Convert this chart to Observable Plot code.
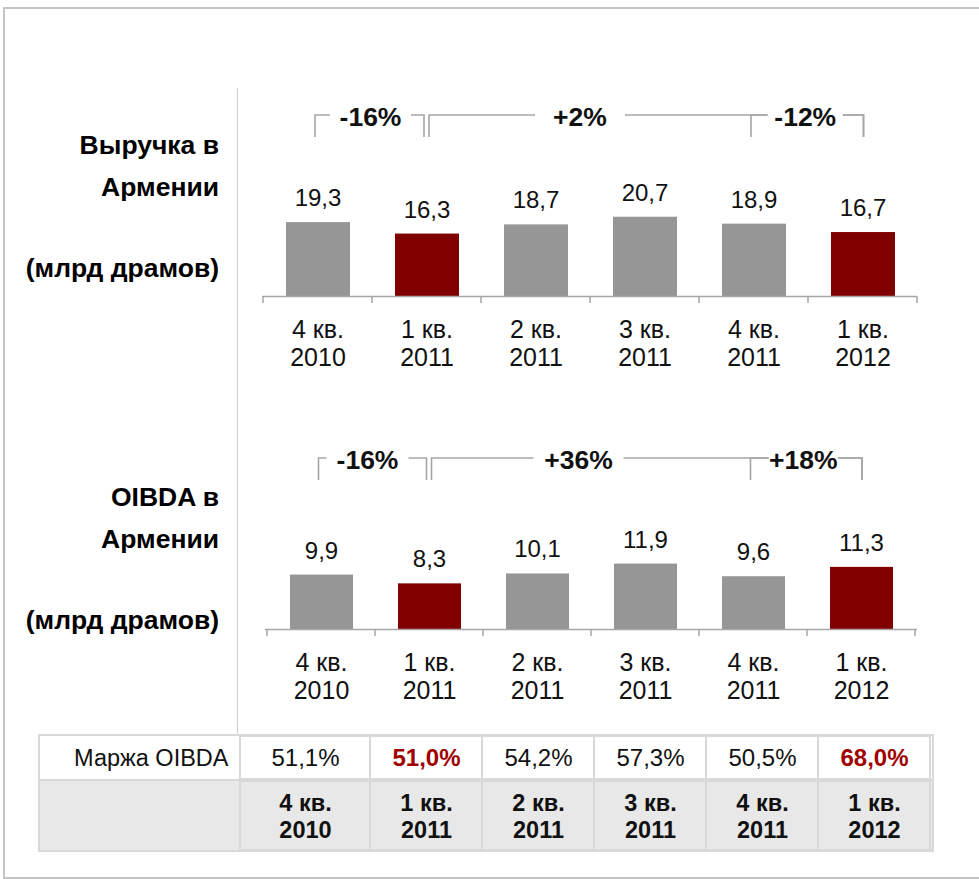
<!DOCTYPE html>
<html lang="ru">
<head>
<meta charset="utf-8">
<script src="https://cdn.jsdelivr.net/npm/d3@7"></script>
<script src="https://cdn.jsdelivr.net/npm/@observablehq/plot@0.6"></script>
<style>
  html, body { margin: 0; padding: 0; background: #fff; }
  body { font-family: "Liberation Sans", Arial, sans-serif; color: #111; }
  #page { position: relative; width: 979px; height: 879px; overflow: hidden; }
  .abs { position: absolute; }
  #outer { left: 3px; top: 7px; width: 1000px; height: 872px; border: 2px solid #c4c4c4; box-sizing: border-box; }
  #vline { left: 237px; top: 88px; width: 0; height: 646px; border-left: 1.5px solid #cfcfcf; }
  .side { position: absolute; left: 0; width: 219px; text-align: right; font-weight: bold; font-size: 26.5px; line-height: 30px; white-space: nowrap; color: #000; }
  #table { left: 38px; top: 734px; width: 896px; height: 118px; border: 2px solid #d9d9d9; box-sizing: border-box; }
  #row1 { height: 43px; }
  #row2 { border-top: 2px solid #d9d9d9; background: #e8e8e8; height: 69px; }
  svg { display: block; }
</style>
</head>
<body>
<div id="page">
  <div id="outer" class="abs"></div>
  <div id="chart1" class="abs" style="left:0;top:0"></div>
  <div id="chart2" class="abs" style="left:0;top:380px"></div>
  <div id="vline" class="abs"></div>
  <div class="side" style="top:130px">Выручка в</div>
  <div class="side" style="top:172px">Армении</div>
  <div class="side" style="top:253px">(млрд драмов)</div>
  <div class="side" style="top:482px">OIBDA в</div>
  <div class="side" style="top:524px">Армении</div>
  <div class="side" style="top:605px">(млрд драмов)</div>
  <div id="table" class="abs"><div id="row1"></div><div id="row2"></div></div>
</div>
<script>
// ---------- data ----------
const quarters = ["4 кв. 2010", "1 кв. 2011", "2 кв. 2011", "3 кв. 2011", "4 кв. 2011", "1 кв. 2012"];
const revenue = [19.3, 16.3, 18.7, 20.7, 18.9, 16.7];
const oibda = [9.9, 8.3, 10.1, 11.9, 9.6, 11.3];
const oibdaMargin = [51.1, 51.0, 54.2, 57.3, 50.5, 68.0];
const highlighted = ["1 кв. 2011", "1 кв. 2012"];
const changeFrom = ["4 кв. 2010", "1 кв. 2011", "4 кв. 2011"];
const changeTo = ["1 кв. 2011", "1 кв. 2012", "1 кв. 2012"];
const revenueChangeLabels = ["-16%", "+2%", "-12%"];
const oibdaChangeLabels = ["-16%", "+36%", "+18%"];
const marginRowLabel = "Маржа OIBDA";

// ---------- styles ----------
const FONT = '"Liberation Sans", Arial, sans-serif';
const GRAY = "#969696", RED = "#800000", TEXT_RED = "#a00000", INK = "#111", LINE = "#a6a6a6", GRID = "#d9d9d9";
const FIRST_COL_EXTRA = 18; // the first table column is wider than the others

const fmtNum = v => v.toFixed(1).replace(".", ",");
const fmtPct = v => v.toFixed(1).replace(".", ",") + "%";
const twoLines = q => q.replace(" 20", "\n20");

function bandWidth(x) { return typeof x.bandwidth === "function" ? x.bandwidth() : (x.bandwidth || 0); }

// tick marks at the band edges under the baseline
function bandTicks(len) {
  return (index, scales, values, dims) => {
    const x = scales.x, bw = bandWidth(x);
    const dom = x.domain();
    const y0 = dims.height - dims.marginBottom;
    const edges = dom.map(q => x(q)).concat(x(dom[dom.length - 1]) + bw);
    const g = d3.create("svg:g").attr("stroke", LINE).attr("stroke-width", 1.5);
    edges.forEach(e => g.append("line").attr("x1", e).attr("x2", e).attr("y1", y0).attr("y2", y0 + len));
    return g.node();
  };
}

// change brackets above the bars
function bracketsMark(changes, gaps, shifts) {
  return (index, scales, values, dims) => {
    const x = scales.x, bw = bandWidth(x);
    const cx = q => x(q) + bw / 2;
    const top = dims.marginTop, drop = 22;
    const geo = changes.map((c, i) => {
      const x1 = cx(c.from) + (changes.some(o => o.to === c.from) ? 2.5 : -2.5);
      const x2 = cx(c.to) + (changes.some(o => o.from === c.to) ? -2.5 : 1);
      const inner = changes.filter(o => o !== c && o.to === c.to && cx(o.from) > cx(c.from));
      const visEnd = inner.length ? Math.min(...inner.map(o => cx(o.from) - 2.5)) : x2;
      return {c, x1, x2, mid: (x1 + visEnd) / 2 + shifts[i], gap: gaps[i]};
    });
    const g = d3.create("svg:g");
    geo.forEach(({x1, x2}) => g.append("path")
      .attr("d", `M${x1},${top + drop}V${top}H${x2}V${top + drop}`)
      .attr("fill", "none").attr("stroke", LINE).attr("stroke-width", 1.6));
    geo.forEach(({mid, gap}) => g.append("rect")
      .attr("x", mid - gap).attr("y", top - 4).attr("width", 2 * gap).attr("height", 8).attr("fill", "white"));
    geo.forEach(({c, mid}) => g.append("text")
      .attr("x", mid).attr("y", top + 10.5).attr("text-anchor", "middle")
      .attr("font-weight", "bold").attr("font-size", 26.5).attr("font-family", FONT).attr("fill", INK)
      .text(c.label));
    return g.node();
  };
}

function barChart(el, values, labels, cfg) {
  const data = quarters.map((q, i) => ({q, v: values[i], hl: highlighted.includes(q)}));
  const changes = changeFrom.map((f, i) => ({from: f, to: changeTo[i], label: labels[i]}));
  const svg = Plot.plot({
    width: 979, height: cfg.height,
    marginTop: cfg.marginTop, marginBottom: cfg.marginBottom, marginLeft: cfg.marginLeft, marginRight: cfg.marginRight,
    style: {background: "transparent", fontFamily: FONT, overflow: "visible"},
    x: {type: "band", domain: quarters, paddingInner: 0, paddingOuter: 0, axis: null},
    y: {domain: [0, cfg.yMax], axis: null},
    color: {type: "identity"},
    marks: [
      Plot.barY(data, {x: "q", y: "v", fill: d => d.hl ? RED : GRAY, insetLeft: 23, insetRight: 22}),
      Plot.ruleY([0], {stroke: LINE, strokeWidth: 1.5}),
      bandTicks(7),
      Plot.text(data, {x: "q", y: "v", text: d => fmtNum(d.v), dy: -16.5, lineAnchor: "bottom", fontSize: 24, fill: INK}),
      Plot.text(data, {x: "q", text: d => twoLines(d.q), frameAnchor: "bottom", lineAnchor: "top", dy: 22, fontSize: 25, lineHeight: 1.1, fill: INK}),
      bracketsMark(changes, cfg.gaps, cfg.shifts)
    ]
  });
  document.getElementById(el).append(svg);
}

barChart("chart1", revenue, revenueChangeLabels, {
  height: 380, marginTop: 115, marginBottom: 84, marginLeft: 262, marginRight: 62, yMax: 47.26,
  gaps: [40.5, 45, 37.5], shifts: [1, -10, -2]
});
barChart("chart2", oibda, oibdaChangeLabels, {
  height: 340, marginTop: 78, marginBottom: 91, marginLeft: 265, marginRight: 62, yMax: 31.1,
  gaps: [41, 45, 34.5], shifts: [-5, -12.5, -3]
});

// ---------- table ----------
const rows = quarters.map((q, i) => ({q, m: oibdaMargin[i], hl: highlighted.includes(q), first: i === 0}));
const tableX = {type: "band", domain: quarters, paddingInner: 0, paddingOuter: 0, axis: null};
const tableMarginLeft = 216;

function tableCells(fill) {
  return [
    Plot.cell(rows.filter(d => d.first), {x: "q", fill, stroke: GRID, strokeWidth: 2, insetLeft: -FIRST_COL_EXTRA}),
    Plot.cell(rows.filter(d => !d.first), {x: "q", fill, stroke: GRID, strokeWidth: 2})
  ];
}

const row1 = Plot.plot({
  width: 892, height: 43, marginTop: 0, marginBottom: 0, marginLeft: tableMarginLeft, marginRight: 0,
  style: {background: "transparent", fontFamily: FONT, overflow: "visible"},
  x: tableX,
  marks: [
    ...tableCells("white"),
    Plot.text(rows.filter(d => !d.hl && d.first), {x: "q", text: d => fmtPct(d.m), fontSize: 24, fill: INK, dx: -FIRST_COL_EXTRA / 2}),
    Plot.text(rows.filter(d => !d.hl && !d.first), {x: "q", text: d => fmtPct(d.m), fontSize: 24, fill: INK}),
    Plot.text(rows.filter(d => d.hl), {x: "q", text: d => fmtPct(d.m), fontSize: 24, fontWeight: "bold", fill: TEXT_RED}),
    Plot.text([marginRowLabel], {frameAnchor: "left", dx: -10 - FIRST_COL_EXTRA, textAnchor: "end", fontSize: 23.5, fill: INK})
  ]
});
document.getElementById("row1").append(row1);

const row2 = Plot.plot({
  width: 892, height: 69, marginTop: 0, marginBottom: 0, marginLeft: tableMarginLeft, marginRight: 0,
  style: {background: "transparent", fontFamily: FONT, overflow: "visible"},
  x: tableX,
  marks: [
    ...tableCells("#e8e8e8"),
    Plot.text(rows.filter(d => d.first), {x: "q", text: d => twoLines(d.q), fontSize: 23.5, fontWeight: "bold", lineHeight: 1.12, lineAnchor: "middle", fill: INK, dx: -FIRST_COL_EXTRA / 2}),
    Plot.text(rows.filter(d => !d.first), {x: "q", text: d => twoLines(d.q), fontSize: 23.5, fontWeight: "bold", lineHeight: 1.12, lineAnchor: "middle", fill: INK})
  ]
});
document.getElementById("row2").append(row2);
</script>
</body>
</html>
